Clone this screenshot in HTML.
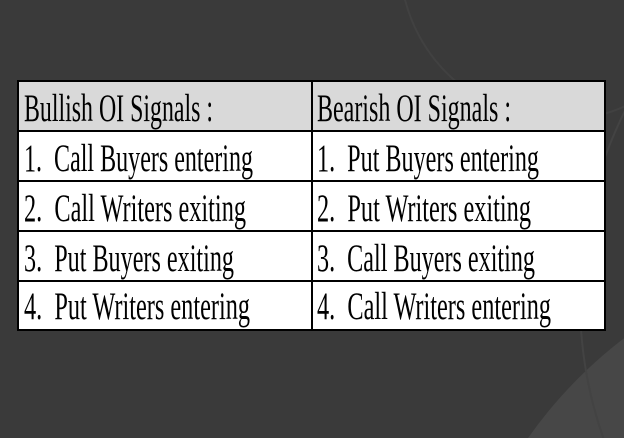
<!DOCTYPE html>
<html><head><style>
html,body{margin:0;padding:0;background:#3a3a3a;width:624px;height:438px;overflow:hidden;}
svg{display:block}
</style></head><body>
<svg width="624" height="438" viewBox="0 0 624 438" xmlns="http://www.w3.org/2000/svg">
<rect width="624" height="438" fill="#3a3a3a"/>
<circle cx="900" cy="700" r="455" fill="#474747"/>
<circle cx="1000" cy="300" r="420" fill="none" stroke="#434343" stroke-width="2"/>
<circle cx="560" cy="-40" r="160" fill="none" stroke="#414141" stroke-width="2"/>
<rect x="18" y="81" width="587" height="249" fill="#fff"/>
<rect x="18" y="81" width="587" height="50" fill="#d9d9d9"/>
<g stroke="#000" stroke-width="2" fill="none">
<rect x="18" y="81" width="587" height="249"/>
<line x1="18" y1="131" x2="605" y2="131"/>
<line x1="18" y1="181" x2="605" y2="181"/>
<line x1="18" y1="231" x2="605" y2="231"/>
<line x1="18" y1="281" x2="605" y2="281"/>
<line x1="312" y1="81" x2="312" y2="330"/>
</g>
<g font-family="Liberation Serif, serif" font-size="39" fill="#000">
<text x="24" y="121" textLength="189" lengthAdjust="spacingAndGlyphs">Bullish OI Signals :</text>
<text x="317" y="121" textLength="194" lengthAdjust="spacingAndGlyphs">Bearish OI Signals :</text>
<text x="24" y="171" textLength="229" lengthAdjust="spacingAndGlyphs">1.&#160; Call Buyers entering</text>
<text x="317" y="171" textLength="222" lengthAdjust="spacingAndGlyphs">1.&#160; Put Buyers entering</text>
<text x="24" y="221" textLength="222" lengthAdjust="spacingAndGlyphs">2.&#160; Call Writers exiting</text>
<text x="317" y="221" textLength="214" lengthAdjust="spacingAndGlyphs">2.&#160; Put Writers exiting</text>
<text x="24" y="271" textLength="210" lengthAdjust="spacingAndGlyphs">3.&#160; Put Buyers exiting</text>
<text x="317" y="271" textLength="218" lengthAdjust="spacingAndGlyphs">3.&#160; Call Buyers exiting</text>
<text x="24" y="319" textLength="226" lengthAdjust="spacingAndGlyphs">4.&#160; Put Writers entering</text>
<text x="317" y="319" textLength="234" lengthAdjust="spacingAndGlyphs">4.&#160; Call Writers entering</text>
</g>
</svg>
</body></html>
